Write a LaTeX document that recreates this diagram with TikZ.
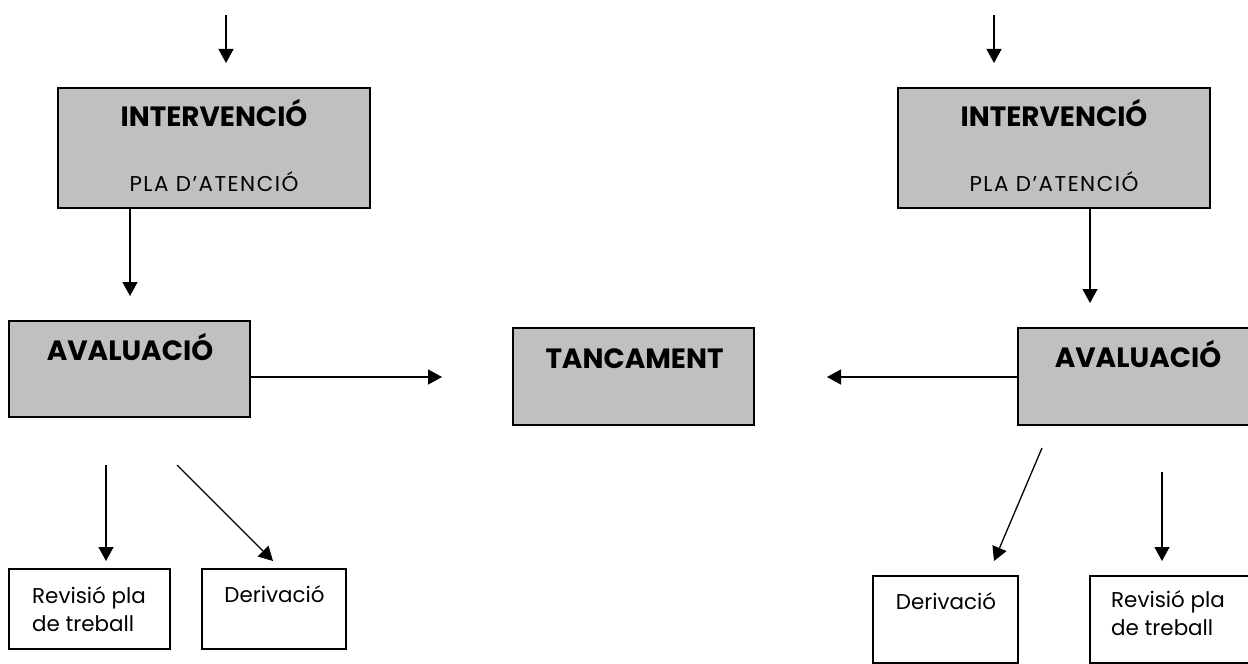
\documentclass[tikz,border=0pt]{standalone}
\usepackage{fontspec}
\setmainfont{Poppins}
\newfontfamily\capfont[LetterSpace=7]{Poppins}
\usetikzlibrary{arrows.meta}
\definecolor{boxgray}{HTML}{C0C0C0}
\tikzset{
  graybox/.style={draw=black, line width=1.6bp, fill=boxgray, inner sep=0pt},
  whitebox/.style={draw=black, line width=1.6bp, fill=white, inner sep=0pt},
  titletext/.style={font=\fontsize{28}{32}\selectfont\bfseries, anchor=base, inner sep=0pt},
  subtext/.style={font=\fontsize{21.5}{24}\capfont, anchor=base, inner sep=0pt},
  smalltext/.style={font=\fontsize{21.5}{28}\selectfont, inner sep=0pt},
  arr/.style={line width=1.3bp, -{Triangle[length=14bp, width=15bp]}},
}
\begin{document}
\begin{tikzpicture}[x=1bp, y=-1bp]
\useasboundingbox (0,0) rectangle (1248,664);
\clip (0,0) rectangle (1248,664);
% boxes
\node[graybox, minimum width=312bp, minimum height=120bp] (intL) at (214,148) {};
\node[graybox, minimum width=241bp, minimum height=96bp] (avL) at (129.5,369) {};
\node[graybox, minimum width=241bp, minimum height=97bp] (tanc) at (633.5,376.5) {};
\node[graybox, minimum width=312bp, minimum height=120bp] (intR) at (1054,148) {};
\node[graybox, minimum width=242bp, minimum height=97bp] (avR) at (1139,376.5) {};
\node[whitebox, minimum width=161bp, minimum height=80bp] (revL) at (89.5,609) {};
\node[whitebox, minimum width=144bp, minimum height=80bp] (derL) at (274,609) {};
\node[whitebox, minimum width=145bp, minimum height=87bp] (derR) at (945.5,619.5) {};
\node[whitebox, minimum width=170bp, minimum height=87bp] (revR) at (1175,619.5) {};
% texts
\node[titletext] (intLt) at (214,127) {INTERVENCIÓ};
\node[subtext] (intLs) at (214,192) {PLA D’ATENCIÓ};
\node[titletext] (avLt) at (130,360) {AVALUACIÓ};
\node[titletext] (tanct) at (634.5,368) {TANCAMENT};
\node[titletext] (intRt) at (1054,127) {INTERVENCIÓ};
\node[subtext] (intRs) at (1054,192) {PLA D’ATENCIÓ};
\node[titletext] (avRt) at (1138,367) {AVALUACIÓ};
\node[smalltext, align=left, anchor=base west] (revLt) at (32,631) {Revisió pla\\de treball};
\node[smalltext, anchor=base] (derLt) at (274.5,602) {Derivació};
\node[smalltext, anchor=base] (derRt) at (946,609) {Derivació};
\node[smalltext, align=left, anchor=base west] (revRt) at (1111,635) {Revisió pla\\de treball};
% arrow end points
\coordinate (a1s) at (226,15);  \coordinate (a1e) at (226,63);
\coordinate (a2s) at (994,15);  \coordinate (a2e) at (994,63);
\coordinate (a3e) at (130,296);
\coordinate (a4e) at (1090,303);
\coordinate (a5e) at (442,377);
\coordinate (a6e) at (827,377);
\coordinate (a7s) at (106,465); \coordinate (a7e) at (106,561);
\coordinate (a8s) at (177,465); \coordinate (a8e) at (273,561);
\coordinate (a9s) at (1042,448); \coordinate (a9e) at (994,561);
\coordinate (a10s) at (1162,472); \coordinate (a10e) at (1162,561);
% arrows
\draw[arr] (a1s) -- (a1e);
\draw[arr] (a2s) -- (a2e);
\draw[arr] (intL.south -| a3e) -- (a3e);
\draw[arr] (intR.south -| a4e) -- (a4e);
\draw[arr] (avL.east |- a5e) -- (a5e);
\draw[arr] (avR.west |- a6e) -- (a6e);
\draw[arr] (a7s) -- (a7e);
\draw[arr] (a8s) -- (a8e);
\draw[arr] (a9s) -- (a9e);
\draw[arr] (a10s) -- (a10e);
\end{tikzpicture}
\end{document}
